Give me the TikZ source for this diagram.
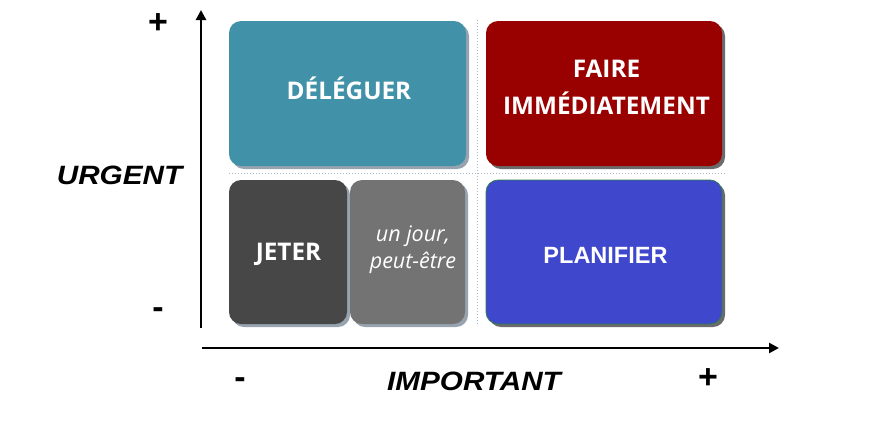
\documentclass[tikz,border=0pt]{standalone}
\usepackage{fontspec}
\setmainfont{Open Sans}
\newfontfamily\arialf{Liberation Sans}
\usetikzlibrary{arrows.meta,shadows}
\definecolor{teal1}{HTML}{4192A8}
\definecolor{red1}{HTML}{990000}
\definecolor{dark1}{HTML}{474747}
\definecolor{grey1}{HTML}{737373}
\definecolor{blue1}{HTML}{3F48CC}
\definecolor{green1}{HTML}{2E7D4F}
\definecolor{shblue}{HTML}{97A3AE}
\definecolor{shdark}{HTML}{6B6B6B}
\definecolor{dotc}{HTML}{A8B8C8}
\tikzset{
  box/.style={draw=none, rounded corners=12pt, inner sep=0pt},
  shA/.style={drop shadow={shadow xshift=3pt, shadow yshift=-3pt, fill=shblue, opacity=1}},
  shB/.style={drop shadow={shadow xshift=3pt, shadow yshift=-3pt, fill=shdark, opacity=1}},
  boxtext/.style={text=white, font=\fontsize{24.3}{37}\selectfont\bfseries, align=center, inner sep=0pt},
  axislabel/.style={font=\arialf\fontsize{26.5}{30}\selectfont\bfseries\itshape, inner sep=0pt, xscale=1.12},
  sign/.style={font=\arialf\fontsize{34}{36}\selectfont\bfseries, inner sep=0pt},
  axis/.style={line width=2.7pt, -{Triangle[length=10pt,width=10pt]}},
  grid/.style={dotc, dotted, line width=1pt}
}
\begin{document}
\begin{tikzpicture}[x=1pt,y=-1pt]
\useasboundingbox (0,0) rectangle (880,432);
\fill[white] (0,0) rectangle (880,432);
% grid lines
\coordinate (h1) at (229,173);
\coordinate (h2) at (725,173);
\coordinate (v1) at (477,20);
\coordinate (v2) at (477,326);
\draw[grid] (h1) -- (h2);
\draw[grid] (v1) -- (v2);
% boxes
\node[box, shA, fill=teal1, minimum width=237pt, minimum height=145pt] (deleg) at (347.5,93.5) {};
\node[box, shB, fill=red1, minimum width=236pt, minimum height=145pt] (faire) at (604,93.5) {};
\node[box, shA, fill=dark1, minimum width=118pt, minimum height=144pt] (jeter) at (288,252) {};
\node[box, shA, fill=grey1, minimum width=115pt, minimum height=144pt] (jour) at (407.5,252) {};
\node[box, shB, fill=blue1, draw=green1, line width=0.8pt, minimum width=236pt, minimum height=144pt] (plan) at (604,252) {};
% texts
\node[boxtext] (tdeleg) at (349,88.5) {DÉLÉGUER};
\node[boxtext] (tfaire) at (606.5,87.5) {FAIRE\\IMMÉDIATEMENT};
\node[boxtext] (tjeter) at (288.5,254.5) {JETER};
\node[text=white, font=\fontsize{21.5}{27}\selectfont\itshape, align=center, inner sep=0pt] (tjour) at (413,250) {un jour,\\peut-être};
\node[text=white, font=\arialf\fontsize{23.5}{26}\selectfont\bfseries, inner sep=0pt] (tplan) at (605.5,255.5) {PLANIFIER};
% axes
\coordinate (o1) at (201,328);
\coordinate (yt) at (201,10);
\coordinate (o2) at (202,348);
\coordinate (xt) at (779,348);
\draw[axis] (o1) -- (yt);
\draw[axis] (o2) -- (xt);
% axis labels
\node[axislabel] (urg) at (119.5,175) {URGENT};
\node[axislabel] (imp) at (474,381) {IMPORTANT};
\node[sign] (yplus) at (158,24) {+};
\node[sign] (yminus) at (158,313) {-};
\node[sign] (xminus) at (240,383) {-};
\node[sign] (xplus) at (708,379) {+};
\end{tikzpicture}
\end{document}
